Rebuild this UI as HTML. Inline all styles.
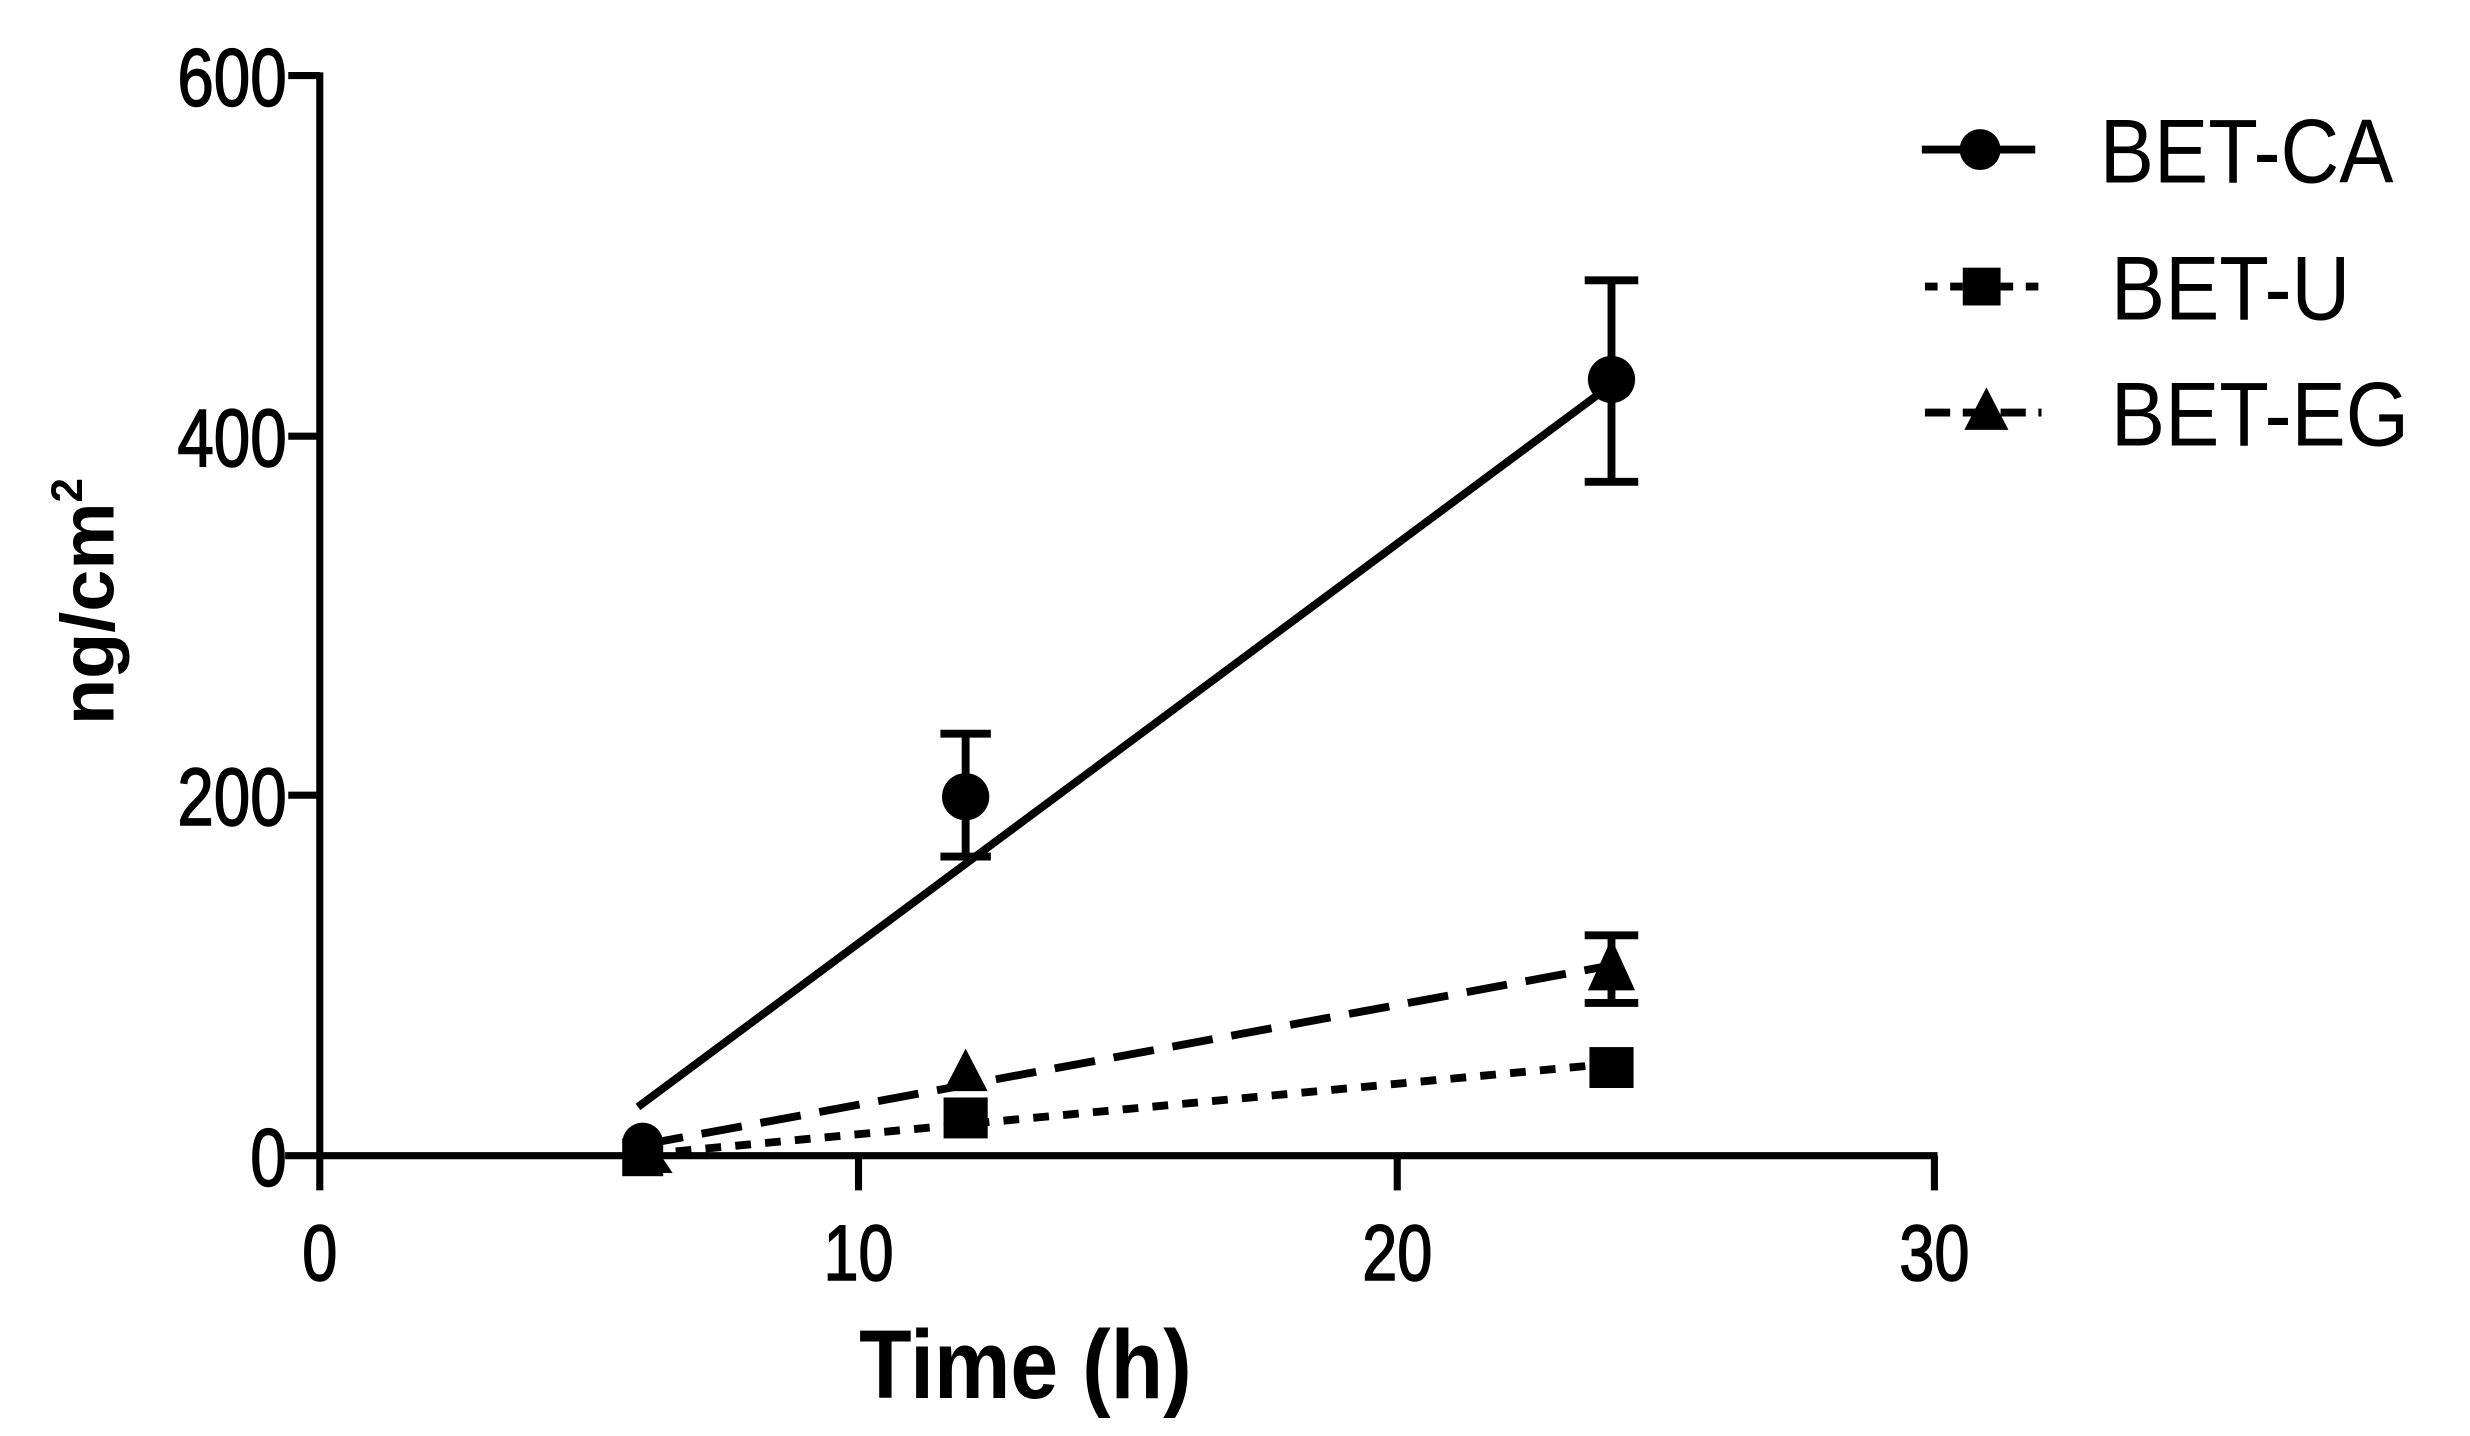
<!DOCTYPE html>
<html><head><meta charset="utf-8"><style>
html,body{margin:0;padding:0;background:#fff;}
svg{display:block;}
text{font-family:"Liberation Sans",Arial,sans-serif;fill:#000;}
</style></head><body>
<svg width="2470" height="1436" viewBox="0 0 1568 912" preserveAspectRatio="none" xmlns="http://www.w3.org/2000/svg">
<g stroke="#000" stroke-width="4.5" fill="none">
<line x1="203" y1="46" x2="203" y2="756"/>
<line x1="181" y1="734" x2="1230" y2="734"/>
<line x1="183" y1="48" x2="203" y2="48"/>
<line x1="183" y1="277" x2="203" y2="277"/>
<line x1="183" y1="505" x2="203" y2="505"/>
<line x1="545" y1="734" x2="545" y2="756"/>
<line x1="887" y1="734" x2="887" y2="756"/>
<line x1="1228" y1="734" x2="1228" y2="756"/>
</g>
<g font-size="52" text-anchor="end" stroke="#000" stroke-width="1" transform="translate(182 0) scale(0.8 1) translate(-182 0)">
<text x="182" y="67">600</text>
<text x="182" y="296">400</text>
<text x="182" y="524">200</text>
<text x="182" y="753">0</text>
</g>
<g font-size="50" text-anchor="middle" stroke="#000" stroke-width="1">
<text x="203" y="813" transform="translate(203 0) scale(0.8 1) translate(-203 0)">0</text>
<text x="545" y="813" transform="translate(545 0) scale(0.8 1) translate(-545 0)">10</text>
<text x="887" y="813" transform="translate(887 0) scale(0.8 1) translate(-887 0)">20</text>
<text x="1228" y="813" transform="translate(1228 0) scale(0.8 1) translate(-1228 0)">30</text>
</g>
<text x="651" y="888" font-size="62" font-weight="bold" text-anchor="middle" transform="translate(651 0) scale(0.88 1) translate(-651 0)">Time (h)</text>
<text transform="translate(72 382) rotate(-90)" font-size="48" font-weight="bold" text-anchor="middle">ng/cm<tspan font-size="28" dy="-20">2</tspan></text>
<g stroke="#000" stroke-width="5" fill="none">
<line x1="405" y1="703" x2="1018" y2="248"/>
<line x1="613" y1="466" x2="613" y2="544"/>
<line x1="597" y1="466" x2="629" y2="466"/>
<line x1="597" y1="544" x2="629" y2="544"/>
<line x1="1023" y1="178" x2="1023" y2="306"/>
<line x1="1006" y1="178" x2="1040" y2="178"/>
<line x1="1006" y1="306" x2="1040" y2="306"/>
<line x1="408" y1="727" x2="1018" y2="614" stroke-dasharray="26 12"/>
<line x1="1023" y1="594" x2="1023" y2="637"/>
<line x1="1006" y1="594" x2="1040" y2="594"/>
<line x1="1006" y1="637" x2="1040" y2="637"/>
<line x1="410" y1="733" x2="1018" y2="676" stroke-dasharray="10 9"/>
</g>
<g fill="#000">
<circle cx="408" cy="726" r="13"/>
<circle cx="613" cy="506" r="15"/>
<circle cx="1023" cy="241" r="15"/>
<rect x="395" y="723" width="26" height="24"/>
<rect x="599" y="697" width="28" height="26"/>
<rect x="1009" y="665" width="28" height="26"/>
<polygon points="613,666 599,693 627,693"/>
<polygon points="1023,596 1008,629 1038,629"/>
<polygon points="415,727 403,745 427,745"/>
</g>
<g stroke="#000" stroke-width="5" fill="none">
<line x1="1220" y1="95" x2="1292" y2="95"/>
<line x1="1222" y1="182" x2="1296" y2="182" stroke-dasharray="8 8"/>
<line x1="1222" y1="262" x2="1296" y2="262" stroke-dasharray="16 8"/>
</g>
<g fill="#000">
<circle cx="1257" cy="95" r="13"/>
<rect x="1246" y="170" width="24" height="24"/>
<polygon points="1261,246 1247,273 1275,273"/>
</g>
<g font-size="58">
<text x="1333" y="116" transform="translate(1333 0) scale(0.89 1) translate(-1333 0)">BET-CA</text>
<text x="1340" y="203" transform="translate(1340 0) scale(0.89 1) translate(-1340 0)">BET-U</text>
<text x="1340" y="283" transform="translate(1340 0) scale(0.89 1) translate(-1340 0)">BET-EG</text>
</g>
</svg>
</body></html>
